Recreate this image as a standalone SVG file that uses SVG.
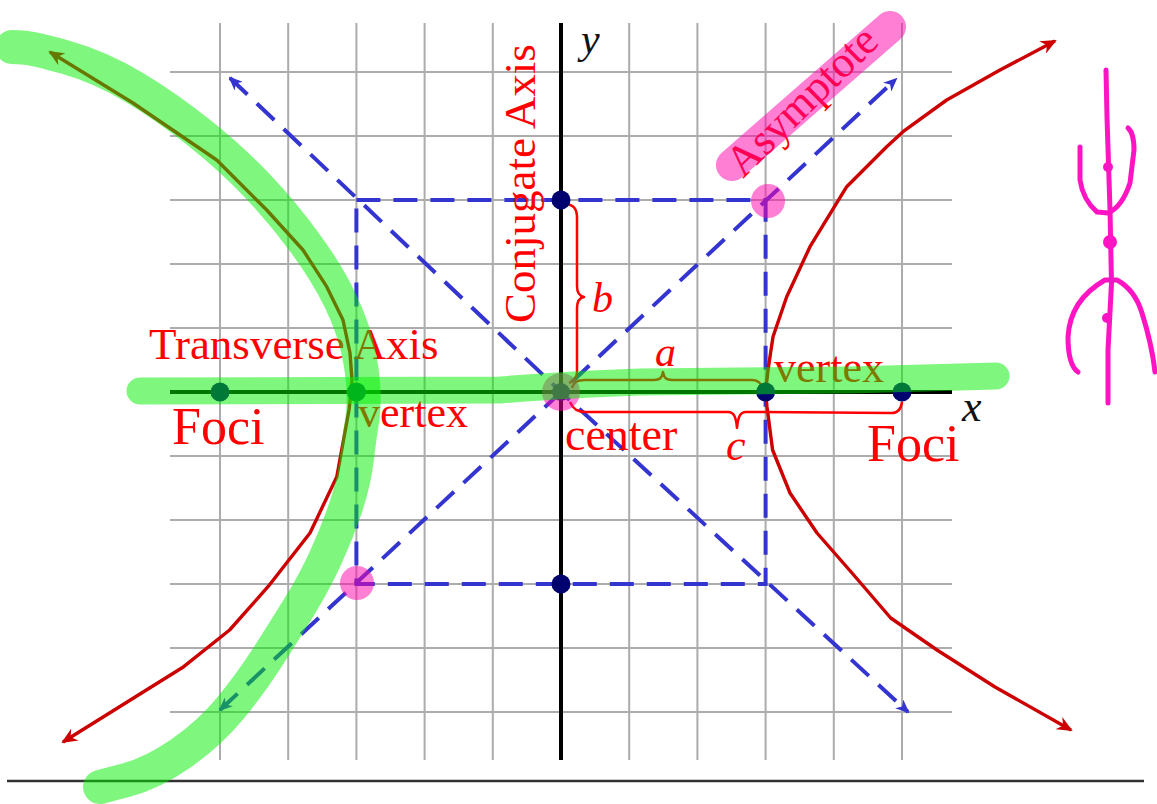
<svg xmlns="http://www.w3.org/2000/svg" width="1157" height="804" viewBox="0 0 1157 804">
<style>
.grid line{stroke:#acacac;stroke-width:2}
.axis{stroke:#000;stroke-width:4}
.dash{fill:none;stroke:#3434d0;stroke-width:4;stroke-dasharray:24 13}
.curve{fill:none;stroke:#cc0000;stroke-width:3.4;stroke-linejoin:round}
.brace{fill:none;stroke:#ff0000;stroke-width:2.5;stroke-linejoin:round}
.dot{fill:#00006e}
.lbl{font-family:"Liberation Serif","Times New Roman",serif;fill:#ff0000}
.it{font-style:italic}
.hl{fill:none;stroke:#00f000;stroke-opacity:0.5;stroke-linecap:round;stroke-linejoin:round}
.pk{fill:#ff00aa;fill-opacity:0.5}
.doodle{fill:none;stroke:#ff14c4;stroke-width:5;stroke-linecap:round;stroke-linejoin:round}
</style>
<defs>
<marker id="arR" viewBox="0 0 16 14" refX="14" refY="7" markerWidth="16" markerHeight="14" markerUnits="userSpaceOnUse" orient="auto-start-reverse"><path d="M0,0 L16,7 L0,14 L5,7 Z" fill="#cc0000"/></marker>
<marker id="arB" viewBox="0 0 14 12" refX="12" refY="6" markerWidth="14" markerHeight="12" markerUnits="userSpaceOnUse" orient="auto-start-reverse"><path d="M0,0 L14,6 L0,12 L4,6 Z" fill="#3434d0"/></marker>
</defs>
<rect width="1157" height="804" fill="#fff"/>
<g id="grid" class="grid">
<line x1="220" y1="23" x2="220" y2="760"/><line x1="288.2" y1="23" x2="288.2" y2="760"/><line x1="356.4" y1="23" x2="356.4" y2="760"/><line x1="424.6" y1="23" x2="424.6" y2="760"/><line x1="492.8" y1="23" x2="492.8" y2="760"/><line x1="629.2" y1="23" x2="629.2" y2="760"/><line x1="697.4" y1="23" x2="697.4" y2="760"/><line x1="765.6" y1="23" x2="765.6" y2="760"/><line x1="833.8" y1="23" x2="833.8" y2="760"/><line x1="902" y1="23" x2="902" y2="760"/>
<line x1="170" y1="72" x2="952" y2="72"/><line x1="170" y1="136" x2="952" y2="136"/><line x1="170" y1="200" x2="952" y2="200"/><line x1="170" y1="264" x2="952" y2="264"/><line x1="170" y1="328" x2="952" y2="328"/><line x1="170" y1="456" x2="952" y2="456"/><line x1="170" y1="520" x2="952" y2="520"/><line x1="170" y1="584" x2="952" y2="584"/><line x1="170" y1="648" x2="952" y2="648"/><line x1="170" y1="712" x2="952" y2="712"/>
</g>
<line x1="7" y1="781" x2="1144" y2="781" stroke="#333" stroke-width="2.5"/>
<g id="axes">
<line class="axis" x1="170" y1="392" x2="952" y2="392"/>
<line class="axis" x1="561" y1="23" x2="561" y2="760"/>
</g>
<g id="connectors">
<rect class="dash" x="356.4" y="200" width="409.2" height="384"/>
<path class="dash" d="M230,78 L561,392 L908,712" marker-start="url(#arB)" marker-end="url(#arB)"/>
<path class="dash" d="M220,710 L561,392 L896,79" marker-start="url(#arB)" marker-end="url(#arB)"/>
<path class="curve" d="M1055,41 L1000,70 L946.7,100 L903,131.7 L886.7,146.7 L846.7,186.7 L810,246.7 L786.7,296.7 L773,336.7 L768,370 L765.6,392 L767,407 L772.6,450 L790,493 L817,533 L852,573 L890.7,618 L937,650 L995,687 L1071,730" marker-start="url(#arR)" marker-end="url(#arR)"/>
<path class="curve" d="M50,52 L133,103 L216.7,160 L266.7,210 L303,250 L326.7,286.7 L343,320 L350,353 L352,380 L351,392 L349,410 L336.8,476.7 L310,533 L268,586.7 L229.6,630 L183.7,666.7 L63,742" marker-start="url(#arR)" marker-end="url(#arR)"/>
<path class="brace" d="M566,204 C574,205 577,209 577,218 L577,286 C577,292 579,296 584,297 C579,298 577,302 577,308 L577,372 C577,378 574,381 569,383"/>
<path class="brace" d="M572,388 C574,382 577,380 585,380 L654,380 C660,380 662,378 663,372 C664,378 666,380 672,380 L752,380 C758,380 762,384 763,390"/>
<path class="brace" d="M570,402 C573,409 577,412 585,412 L728,412 C734,412 736,417 737,428 C738,417 740,412 746,412 L892,413 C898,413 901,409 902,402"/>
</g>
<g id="points">
<circle id="center-pt" class="dot" cx="561" cy="392" r="9"/>
<circle id="co-vertex-top" class="dot" cx="561" cy="200" r="9.5"/>
<circle id="co-vertex-bottom" class="dot" cx="561" cy="584" r="9.5"/>
<circle id="vertex-right" class="dot" cx="765.6" cy="392" r="9.5"/>
<circle id="focus-right" class="dot" cx="902" cy="392" r="9.5"/>
<circle id="vertex-left" class="dot" cx="356.4" cy="392" r="9.5"/>
<circle id="focus-left" class="dot" cx="220" cy="392" r="9.5"/>
</g>
<g id="labels">
<text class="lbl it" x="581" y="53" font-size="42" style="fill:#111">y</text>
<text class="lbl it" x="962" y="421" font-size="44" style="fill:#111">x</text>
<text class="lbl" transform="translate(535,323) rotate(-90)" font-size="45">Conjugate Axis</text>
<text class="lbl" x="149" y="359" font-size="45">Transverse Axis</text>
<text class="lbl" x="172" y="444" font-size="52">Foci</text>
<text class="lbl" x="867" y="461" font-size="52">Foci</text>
<text class="lbl" x="358" y="427" font-size="44">vertex</text>
<text class="lbl" x="774" y="382" font-size="44">vertex</text>
<text class="lbl" x="565" y="450" font-size="46">center</text>
<text class="lbl it" x="655" y="366" font-size="42">a</text>
<text class="lbl it" x="592" y="312" font-size="42">b</text>
<text class="lbl it" x="726" y="460" font-size="44">c</text>
<text class="lbl" transform="translate(743,179) rotate(-44.5)" font-size="44">Asymptote</text>
</g>
<g id="highlights">
<circle class="pk" cx="768" cy="201" r="17"/>
<circle class="pk" cx="357" cy="583" r="17"/>
<circle class="pk" cx="561" cy="392" r="19"/>
<line x1="732" y1="165" x2="890" y2="27" stroke="#ff00aa" stroke-opacity="0.5" stroke-width="32" stroke-linecap="round"/>
<path class="hl" stroke-width="34" d="M12,47 L22.5,47.5 Q33,48 66.5,57.5 Q100,67 133.5,87 Q167,107 200,133.5 Q233,160 258,186.5 Q283,213 305,243 Q327,273 340,300 Q353,327 358,350 Q363,373 363.5,391.5 Q364,410 362,421.5 Q360,433 357,458 Q354,483 345.5,508 Q337,533 325.5,558 Q314,583 298.5,608 Q283,633 267,658 Q251,683 230.5,708 Q210,733 181.5,753 Q153,773 126.5,780 L100,787"/>
<path class="hl" stroke-width="27" d="M140,391 L500,390 Q560,385 640,382 L850,380 Q930,378 996,376"/>
</g>
<g id="doodle" class="doodle">
<path d="M1106,70 L1107,117 L1110,210 L1111.5,283 L1108,350 L1108,403"/>
<path d="M1080,147 L1080,180 Q1083,200 1097,212 L1108,213 Q1122,207 1130,183 L1134,150 Q1134,133 1128,128"/>
<path d="M1078,372 Q1068,365 1068,337 Q1070,300 1105,280 L1117,280 Q1135,290 1142,313 Q1152,345 1155,372"/>
<circle cx="1108" cy="167" r="5" fill="#ff14c4" stroke="none"/>
<circle cx="1110" cy="242" r="7" fill="#ff14c4" stroke="none"/>
<circle cx="1107" cy="318" r="5" fill="#ff14c4" stroke="none"/>
</g>
</svg>
